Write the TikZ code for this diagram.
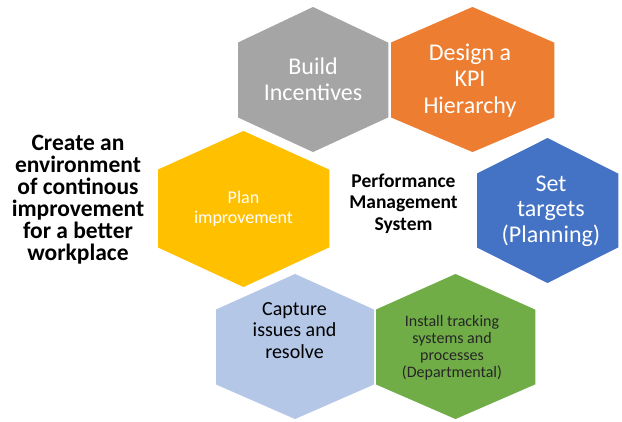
\documentclass[tikz,border=0pt]{standalone}
\usepackage{fontspec}
\setmainfont{Carlito}
\definecolor{hgray}{HTML}{A5A5A5}
\definecolor{horange}{HTML}{ED7D31}
\definecolor{hblue}{HTML}{4472C4}
\definecolor{hyellow}{HTML}{FFC000}
\definecolor{hlight}{HTML}{B4C7E7}
\definecolor{hgreen}{HTML}{70AD47}
\newcommand\hexagon[7]{\fill[#1,draw=white,line width=1.5pt,line join=miter] (#2-#3,#5) -- (#2,#4) -- (#2+#3,#5) -- (#2+#3,#6) -- (#2,#7) -- (#2-#3,#6) -- cycle;}
\newcommand\stack[1]{\vtop{\halign{\hfil##\hfil\cr#1\crcr}}}
\tikzset{
  hextext/.style={anchor=base,inner sep=0pt},
  big/.style={font=\fontsize{24}{26}\selectfont},
}
\begin{document}
\begin{tikzpicture}[x=1pt,y=-1pt]
\useasboundingbox (0,0) rectangle (622,421);
\fill[white] (0,0) rectangle (622,421);
% hexagons
\hexagon{hgray}{313}{76}{6}{42}{118}{153}
\hexagon{horange}{472.5}{82.5}{6}{42}{118}{153}
\hexagon{hyellow}{243.5}{86.5}{130}{169}{248}{288}
\hexagon{hblue}{547.5}{71.5}{137}{173}{248}{284}
\hexagon{hlight}{295}{80}{273}{309}{385}{420}
\hexagon{hgreen}{455.5}{80.5}{273}{309}{385}{420}
% texts
\node[hextext,big,text=white] (build) at (313,74) {\stack{Build\cr Incentives}};
\node[hextext,font=\fontsize{24}{26.5}\selectfont,text=white] (kpi) at (470,60) {\stack{Design a\cr KPI\cr Hierarchy}};
\node[hextext,font=\fontsize{24}{25.5}\selectfont,text=white] (targets) at (551,191) {\stack{Set\cr targets\cr (Planning)}};
\node[hextext,font=\fontsize{18}{20}\selectfont,text=white] (plan) at (243.5,203) {\stack{Plan\cr improvement}};
\node[hextext,font=\fontsize{20}{21.5}\selectfont,text=black] (capture) at (294.5,315) {\stack{Capture\cr issues and\cr resolve}};
\node[hextext,font=\fontsize{16}{17}\selectfont,text=black!85] (install) at (452,326) {\stack{Install tracking\cr systems and\cr processes\cr (Departmental)}};
\node[hextext,font=\fontsize{19.5}{21.5}\selectfont\bfseries,text=black] (pms) at (403.5,187) {\stack{Performance\cr Management\cr System}};
\node[hextext,font=\fontsize{23.5}{22}\selectfont\bfseries,text=black] (goal) at (78,150) {\stack{Create an\cr environment\cr of continous\cr improvement\cr for a better\cr workplace}};
\end{tikzpicture}
\end{document}
